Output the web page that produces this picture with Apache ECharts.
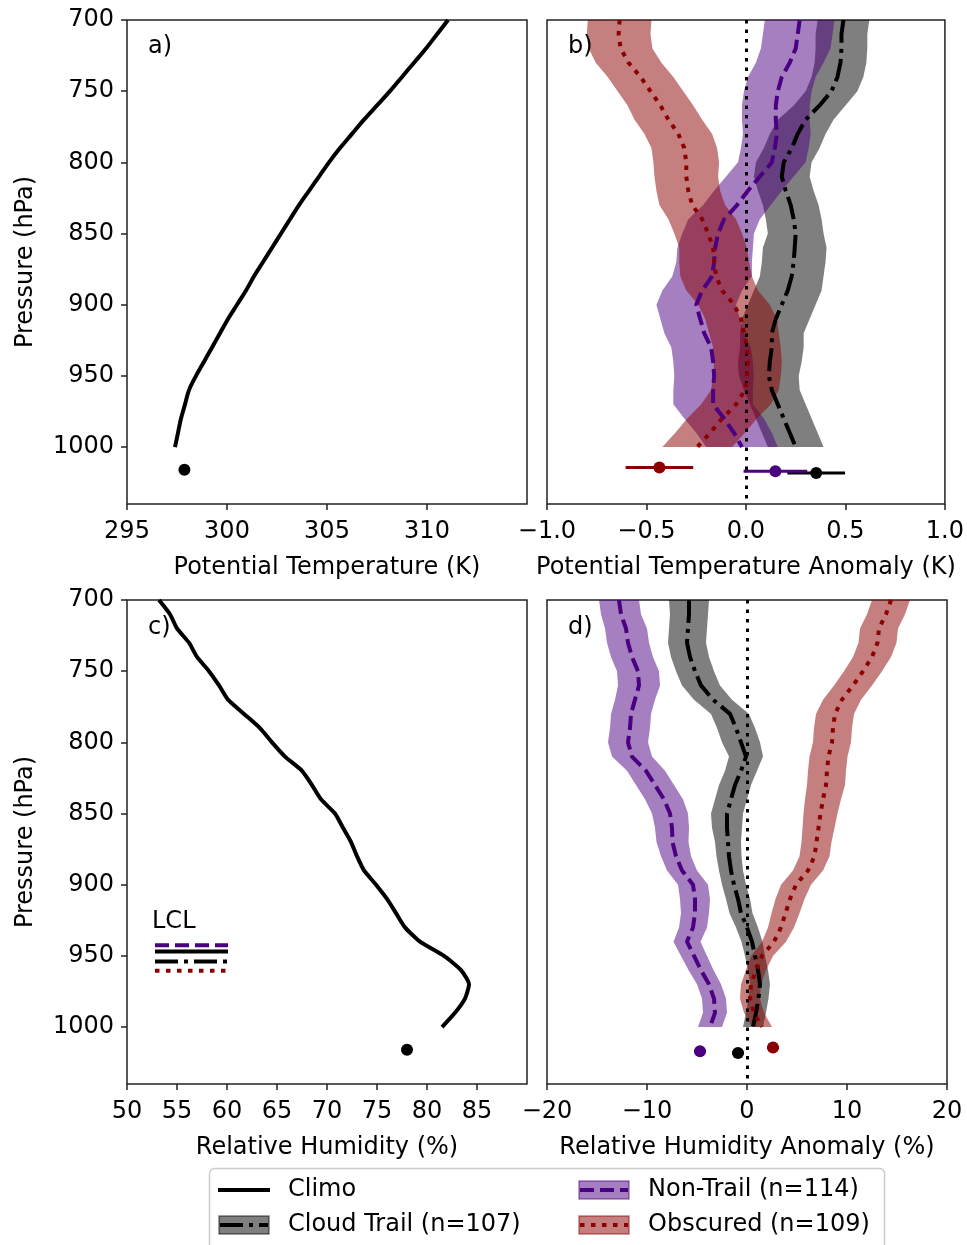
<!DOCTYPE html>
<html>
<head>
<meta charset="utf-8">
<script src="https://cdn.jsdelivr.net/npm/echarts@6/dist/echarts.min.js"></script>
<style>
html,body{margin:0;padding:0;background:#fff;}
#chart{width:967px;height:1245px;}
</style>
</head>
<body>
<div id="chart"></div>
<script>
// ---------------- DATA ----------------
const pressure = [700,710,720,730,740,750,760,770,780,790,800,810,820,830,840,850,860,870,880,890,900,910,920,930,940,950,960,970,980,990,1000];

// Panel a: climatological potential temperature (K)
const climoTheta = [311.05,310.5,309.95,309.35,308.75,308.15,307.5,306.85,306.25,305.65,305.1,304.6,304.1,303.6,303.15,302.7,302.25,301.8,301.35,300.95,300.5,300.05,299.65,299.25,298.85,298.45,298.1,297.9,297.7,297.55,297.4];
const climoThetaSfc = 297.87;
const climoSfcPressure = 1016;

// Panel b: potential temperature anomaly (K), mean and half-width of shading
const thetaTrail = [0.49,0.48,0.48,0.475,0.46,0.43,0.37,0.30,0.26,0.23,0.19,0.18,0.20,0.225,0.24,0.25,0.245,0.24,0.23,0.21,0.18,0.15,0.13,0.13,0.12,0.115,0.13,0.16,0.19,0.22,0.25];
const thetaTrailHalf = [0.13,0.13,0.13,0.13,0.13,0.13,0.13,0.14,0.14,0.14,0.14,0.14,0.14,0.14,0.14,0.14,0.16,0.16,0.16,0.17,0.17,0.17,0.16,0.16,0.16,0.15,0.14,0.14,0.14,0.14,0.14];
const thetaNonTrail = [0.27,0.26,0.25,0.22,0.18,0.16,0.15,0.15,0.155,0.145,0.13,0.07,0.01,-0.045,-0.11,-0.14,-0.155,-0.16,-0.17,-0.22,-0.25,-0.23,-0.21,-0.175,-0.165,-0.16,-0.165,-0.165,-0.11,-0.06,-0.02];
const thetaNonTrailHalf = [0.175,0.175,0.175,0.17,0.17,0.17,0.17,0.17,0.17,0.17,0.17,0.17,0.17,0.17,0.18,0.18,0.19,0.19,0.2,0.2,0.2,0.2,0.2,0.2,0.2,0.2,0.2,0.2,0.2,0.19,0.18];
const thetaObscured = [-0.635,-0.64,-0.63,-0.59,-0.53,-0.48,-0.43,-0.39,-0.34,-0.31,-0.30,-0.30,-0.29,-0.27,-0.22,-0.19,-0.165,-0.16,-0.15,-0.12,-0.06,-0.025,-0.01,0.005,0.01,0.005,-0.005,-0.05,-0.12,-0.18,-0.245];
const thetaObscuredHalf = [0.16,0.16,0.16,0.165,0.165,0.165,0.165,0.17,0.17,0.165,0.165,0.16,0.16,0.165,0.17,0.17,0.17,0.175,0.18,0.18,0.18,0.18,0.175,0.17,0.17,0.17,0.17,0.175,0.175,0.175,0.175];

// surface values: [Cloud Trail, Non-Trail, Obscured]
const sfcPressure = [1018.2, 1017.0, 1014.4];
const thetaSfc = [0.353, 0.148, -0.435];
const thetaSfcErr = [0.145, 0.16, 0.17];

// Panel c: climatological relative humidity (%)
const climoRH = [53.2,54.3,55.0,56.2,57.0,58.2,59.2,60.1,61.7,63.3,64.5,65.8,67.5,68.5,69.4,70.8,71.6,72.4,73.0,73.7,74.9,76.0,76.9,77.8,79.3,81.7,83.4,84.2,83.8,82.8,81.5];
const climoRHSfc = 78.0;
// LCL pressures: [Non-Trail, Climo, Cloud Trail, Obscured]
const lclPressure = [942.5, 946.9, 953.9, 960.5];
const lclSpan = [52.8, 60.1];

// Panel d: relative humidity anomaly (%)
const rhTrail = [-5.8,-5.8,-5.9,-6.0,-5.7,-5.2,-4.6,-3.4,-1.7,-1.1,-0.6,-0.1,-0.6,-1.2,-1.6,-2.0,-2.0,-1.9,-1.8,-1.6,-1.3,-0.9,-0.6,0.0,0.5,0.8,1.1,1.3,1.15,0.9,0.6];
const rhTrailHalf = [2.0,1.9,1.9,1.9,1.9,1.9,1.9,1.9,1.9,1.9,1.9,1.7,1.6,1.6,1.6,1.6,1.5,1.3,1.25,1.2,1.2,1.2,1.15,1.1,1.05,1.0,1.0,1.0,1.0,1.0,1.0];
const rhNonTrail = [-12.8,-12.6,-12.1,-11.9,-11.5,-10.9,-10.8,-11.2,-11.6,-11.7,-11.9,-11.5,-10.1,-9.2,-8.3,-7.7,-7.5,-7.45,-7.1,-6.5,-5.4,-5.2,-5.2,-5.4,-6.0,-5.3,-4.6,-3.8,-3.3,-3.2,-3.7];
const rhNonTrailHalf = [2.0,2.0,2.1,2.1,2.1,2.1,2.1,2.0,2.0,2.0,2.0,2.0,1.9,1.9,1.9,1.8,1.7,1.6,1.5,1.5,1.5,1.5,1.4,1.4,1.35,1.3,1.25,1.2,1.2,1.2,1.2];
const rhObscured = [14.4,13.9,13.2,13.05,12.5,11.6,10.6,9.5,8.8,8.6,8.5,8.15,8.0,7.9,7.6,7.35,7.15,6.95,6.75,6.1,4.9,4.3,3.85,3.4,2.7,1.5,0.9,0.4,0.3,0.7,1.5];
const rhObscuredHalf = [1.9,1.9,1.9,1.9,1.9,1.9,1.9,1.9,1.9,1.9,1.9,1.9,1.9,1.9,1.8,1.7,1.6,1.5,1.5,1.5,1.5,1.45,1.4,1.3,1.2,1.1,1.0,1.0,1.0,1.0,1.0];
const rhSfc = [-0.9, -4.7, 2.6];
const rhSfcErr = [0.6, 0.6, 0.6];

// tick labels
const pressureTicks = [700,750,800,850,900,950,1000];
const thetaTicks = [295,300,305,310];
const thetaAnomTicks = [-1.0,-0.5,0.0,0.5,1.0];
const rhTicks = [50,55,60,65,70,75,80,85];
const rhAnomTicks = [-20,-10,0,10,20];

const groupNames = ['Cloud Trail (n=107)', 'Non-Trail (n=114)', 'Obscured (n=109)'];

// ---------------- STYLE ----------------
const FONT = 'DejaVu Sans';
const lineColors = ['#000000', '#4b0082', '#8b0000'];
const fillColors = ['rgba(0,0,0,0.5)', 'rgba(75,0,130,0.5)', 'rgba(139,0,0,0.5)'];
const dashTypes = [[23,6,4,6], [14,6], [4.5,6.5]];
const LW = 4;

const grids = [
  {left:127, top:20, width:400, height:484},
  {left:547, top:20, width:400, height:484},
  {left:127, top:600, width:400, height:484},
  {left:547, top:600, width:400, height:484}
];

function minusFmt(s){ return String(s).replace('-', '\u2212'); }

function makeX(idx, min, max, interval, ticks, fmt, name){
  return {
    type:'value', gridIndex: idx, min: min, max: max, interval: interval,
    axisLine:{show:false},
    axisTick:{show:true, inside:false, length:6, customValues: ticks, lineStyle:{color:'#222', width:1.5}},
    axisLabel:{show:true, customValues: ticks, fontFamily:FONT, fontSize:24, color:'#000', margin:16, formatter: fmt},
    splitLine:{show:false},
    name: name, nameLocation:'middle', nameGap:52,
    nameTextStyle:{fontFamily:FONT, fontSize:24, color:'#000'}
  };
}
function makeY(idx, showLabels){
  return {
    type:'value', gridIndex: idx, min:700, max:1040, interval:50, inverse:true,
    axisLine:{show:false},
    axisTick:{show:showLabels, inside:false, length:6, customValues: pressureTicks, lineStyle:{color:'#222', width:1.5}},
    axisLabel:{show:showLabels, customValues: pressureTicks, fontFamily:FONT, fontSize:24, color:'#000', margin:13,
      formatter: v=>String(v)},
    splitLine:{show:false},
    name: showLabels ? 'Pressure (hPa)' : '', nameLocation:'middle', nameGap:89,
    nameTextStyle:{fontFamily:FONT, fontSize:24, color:'#000'}
  };
}

const series = [];

function bandSeries(gi, center, half, color, z){
  return {
    type:'custom', xAxisIndex: gi, yAxisIndex: gi, clip:true, silent:true, z: z,
    data: pressure.map((p,i)=>[center[i]-half[i], center[i]+half[i], p]),
    encode:{x:[0,1], y:2},
    renderItem: function(params, api){
      if (params.dataIndex !== 0) return;
      const pts = [];
      for (let i=0;i<pressure.length;i++) pts.push(api.coord([center[i]-half[i], pressure[i]]));
      for (let i=pressure.length-1;i>=0;i--) pts.push(api.coord([center[i]+half[i], pressure[i]]));
      return {type:'polygon', shape:{points:pts}, style:{fill:color, stroke:null}};
    }
  };
}
function lineSeries(gi, xs, color, type, z, name, smooth){
  return {
    type:'line', name: name, xAxisIndex: gi, yAxisIndex: gi, showSymbol:false, silent:true, z: z,
    smooth: smooth || false,
    data: pressure.map((p,i)=>[xs[i], p]),
    lineStyle:{color:color, width:LW, type:type, cap:'butt'},
    animation:false
  };
}
function zeroLine(gi){
  return {
    type:'line', xAxisIndex: gi, yAxisIndex: gi, data:[], silent:true, z:6,
    markLine:{silent:true, symbol:['none','none'], label:{show:false}, animation:false,
      lineStyle:{color:'#000', width:3, type:[3.5,6]}, data:[{xAxis:0}]}
  };
}
function dot(gi, x, p, color){
  return {type:'scatter', xAxisIndex:gi, yAxisIndex:gi, silent:true, z:8, symbolSize:12,
    data:[[x, p]], itemStyle:{color: color, opacity:1}, animation:false};
}
function sfcSeries(gi, means, errs){
  for (let k=0;k<3;k++){
    series.push({
      type:'line', xAxisIndex:gi, yAxisIndex:gi, showSymbol:false, silent:true, z:7,
      data:[[means[k]-errs[k], sfcPressure[k]], [means[k]+errs[k], sfcPressure[k]]],
      lineStyle:{color: lineColors[k], width:3}, animation:false
    });
    series.push(dot(gi, means[k], sfcPressure[k], lineColors[k]));
  }
}

// Panel a
series.push(lineSeries(0, climoTheta, '#000', 'solid', 5, 'Climo', 0.35));
series.push(dot(0, climoThetaSfc, climoSfcPressure, '#000'));

// Panel b
const thetaC = [thetaTrail, thetaNonTrail, thetaObscured];
const thetaH = [thetaTrailHalf, thetaNonTrailHalf, thetaObscuredHalf];
for (let k=0;k<3;k++) series.push(bandSeries(1, thetaC[k], thetaH[k], fillColors[k], 1+k));
for (let k=0;k<3;k++) series.push(lineSeries(1, thetaC[k], lineColors[k], dashTypes[k], 5, groupNames[k]));
series.push(zeroLine(1));
sfcSeries(1, thetaSfc, thetaSfcErr);

// Panel c
series.push(lineSeries(2, climoRH, '#000', 'solid', 5, 'Climo', 0.2));
series.push(dot(2, climoRHSfc, climoSfcPressure, '#000'));
const lclColors = [lineColors[1], '#000', lineColors[0], lineColors[2]];
const lclTypes = [dashTypes[1], 'solid', dashTypes[0], dashTypes[2]];
for (let k=0;k<4;k++){
  series.push({type:'line', xAxisIndex:2, yAxisIndex:2, showSymbol:false, silent:true, z:6,
    data:[[lclSpan[0], lclPressure[k]], [lclSpan[1], lclPressure[k]]],
    lineStyle:{color: lclColors[k], width:LW, type: lclTypes[k], cap:'butt'}, animation:false});
}

// Panel d
const rhC = [rhTrail, rhNonTrail, rhObscured];
const rhH = [rhTrailHalf, rhNonTrailHalf, rhObscuredHalf];
for (let k=0;k<3;k++) series.push(bandSeries(3, rhC[k], rhH[k], fillColors[k], 1+k));
for (let k=0;k<3;k++) series.push(lineSeries(3, rhC[k], lineColors[k], dashTypes[k], 5, groupNames[k]));
series.push(zeroLine(3));
sfcSeries(3, rhSfc, rhSfcErr);

// ---------------- LEGEND & LABELS (graphic) ----------------
const txt = (x,y,s,extra) => Object.assign({type:'text', x:x, y:y, z:100,
  style:{text:s, font:'24px "DejaVu Sans"', fill:'#000', textVerticalAlign:'middle', verticalAlign:'middle'}}, extra||{});
const graphic = [
  txt(148,47,'a)'), txt(568,47,'b)'), txt(148,628,'c)'), txt(568,628,'d)'),
  txt(152,922,'LCL'),
  {type:'rect', z:90, shape:{x:209.5, y:1168.5, width:675, height:100, r:5}, style:{fill:'#fff', stroke:'#cccccc', lineWidth:1.5}},
  {type:'line', z:100, shape:{x1:218,y1:1190,x2:270,y2:1190}, style:{stroke:'#000', lineWidth:LW}},
  txt(288,1190,'Climo')
];
const legPos = [[219,1225,288],[579,1190,648],[579,1225,648]];
for (let k=0;k<3;k++){
  const [lx,ly,tx] = legPos[k];
  graphic.push({type:'rect', z:100, shape:{x:lx, y:ly-9, width:50, height:18}, style:{fill:fillColors[k], stroke:fillColors[k], lineWidth:1.5}});
  graphic.push({type:'line', z:101, shape:{x1:lx+1, y1:ly, x2:lx+49, y2:ly}, style:{stroke:lineColors[k], lineWidth:LW, lineDash:dashTypes[k]}});
  graphic.push(txt(tx, ly, groupNames[k]));
}

const option = {
  animation:false,
  backgroundColor:'#fff',
  textStyle:{fontFamily:FONT},
  grid: grids.map(g=>Object.assign({show:true, borderColor:'#222', borderWidth:1.5, backgroundColor:'transparent', containLabel:false}, g)),
  xAxis: [
    makeX(0, 295, 315, 5, thetaTicks, v=>String(v), 'Potential Temperature (K)'),
    makeX(1, -1, 1, 0.5, thetaAnomTicks, v=>minusFmt(Number(v).toFixed(1)), 'Potential Temperature Anomaly (K)'),
    makeX(2, 50, 90, 5, rhTicks, v=>String(v), 'Relative Humidity (%)'),
    makeX(3, -20, 20, 10, rhAnomTicks, v=>minusFmt(String(v)), 'Relative Humidity Anomaly (%)')
  ],
  yAxis: [makeY(0,true), makeY(1,false), makeY(2,true), makeY(3,false)],
  series: series,
  graphic: graphic
};

const chart = echarts.init(document.getElementById('chart'), null, {renderer:'canvas'});
chart.setOption(option);
</script>
</body>
</html>
